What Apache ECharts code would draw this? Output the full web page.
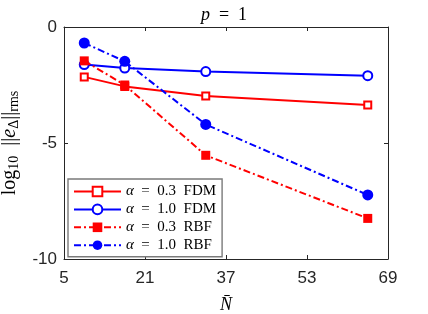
<!DOCTYPE html>
<html>
<head>
<meta charset="utf-8">
<script src="https://cdn.jsdelivr.net/npm/echarts@6/dist/echarts.min.js"></script>
<style>html,body{margin:0;padding:0;background:#fff}#c{width:428px;height:314px}</style>
</head>
<body>
<div id="c"></div>
<script>
const N = [9, 17, 33, 65];
const fdm03 = [-2.15, -2.56, -2.97, -3.36];
const fdm10 = [-1.62, -1.77, -1.92, -2.10];
const rbf03 = [-1.46, -2.50, -5.53, -8.25];
const rbf10 = [-0.69, -1.48, -4.20, -7.24];
const xTicks = [5, 21, 37, 53, 69];
const yTicks = [-10, -5, 0];

const pairs = (ys) => N.map((x, i) => [x, ys[i]]);
const serif = "'Liberation Serif','DejaVu Serif',serif";
const sans = "'Liberation Sans',Arial,sans-serif";
const axisCol = '#262626';
const dashDot = [7, 3, 2, 3];

const legendRich = {
  a: { fontFamily: serif, fontStyle: 'italic', fontSize: 15, color: '#000', lineHeight: 12 },
  t: { fontFamily: serif, fontSize: 15, color: '#000', lineHeight: 12 }
};
const names = [
  '{a|α}{t|  =  0.3  FDM}',
  '{a|α}{t|  =  1.0  FDM}',
  '{a|α}{t|  =  0.3  RBF}',
  '{a|α}{t|  =  1.0  RBF}'
];

const chart = echarts.init(document.getElementById('c'), null, { renderer: 'canvas' });
const baseX = {
  type: 'value', min: 5, max: 69, interval: 16,
  axisLine: { show: true, onZero: false, lineStyle: { color: axisCol, width: 1 } },
  axisTick: { show: true, inside: true, length: 4, lineStyle: { color: axisCol } },
  splitLine: { show: false }
};
const baseY = {
  type: 'value', min: -10, max: 0, interval: 5,
  axisLine: { show: true, onZero: false, lineStyle: { color: axisCol, width: 1 } },
  axisTick: { show: true, inside: true, length: 4, lineStyle: { color: axisCol } },
  splitLine: { show: false }
};

chart.setOption({
  animation: false,
  backgroundColor: '#fff',
  title: {
    text: '{i|p}{t|  =  1}',
    left: 219, top: 1, textAlign: 'center',
    textStyle: {
      fontWeight: 'normal',
      rich: {
        i: { fontFamily: serif, fontStyle: 'italic', fontWeight: 'normal', fontSize: 18, color: '#000' },
        t: { fontFamily: serif, fontWeight: 'normal', fontSize: 18, color: '#000' }
      }
    }
  },
  grid: { left: 64, right: 40, top: 27, bottom: 55, containLabel: false, outerBoundsMode: 'none' },
  xAxis: [
    Object.assign({}, baseX, {
      position: 'bottom',
      axisLabel: { show: true, fontFamily: sans, fontSize: 17, color: '#262626', margin: 11 },
      name: 'N\u0304',
      nameLocation: 'middle', nameGap: 37,
      nameTextStyle: { fontFamily: serif, fontStyle: 'italic', fontSize: 18, color: '#000' }
    }),
    Object.assign({}, baseX, { position: 'top', axisLabel: { show: false } })
  ],
  yAxis: [
    Object.assign({}, baseY, {
      position: 'left',
      axisLabel: { show: true, fontFamily: sans, fontSize: 17, color: '#262626', margin: 7 },
      name: '{r|log}{s|10}{r|  ||}{i|e}{s|\u0394}{r|||}{s|rms}',
      nameLocation: 'middle', nameGap: 42, nameRotate: 90,
      nameTextStyle: {
        rich: {
          r: { fontFamily: serif, fontSize: 20, color: '#000', lineHeight: 24, verticalAlign: 'middle' },
          i: { fontFamily: serif, fontStyle: 'italic', fontSize: 20, color: '#000', lineHeight: 24, verticalAlign: 'middle' },
          s: { fontFamily: serif, fontSize: 14, color: '#000', lineHeight: 24, verticalAlign: 'bottom', padding: [7, 0, 0, 0] }
        }
      }
    }),
    Object.assign({}, baseY, { position: 'right', axisLabel: { show: false } })
  ],
  legend: {
    orient: 'vertical',
    left: 68, top: 179,
    padding: [5, 6, 4, 5],
    itemWidth: 47, itemHeight: 12, itemGap: 2.9,
    backgroundColor: '#fff',
    borderColor: '#7a7a7a', borderWidth: 1.4,
    selectedMode: false,
    textStyle: { rich: legendRich, lineHeight: 12 },
    data: names
  },
  series: [
    {
      name: names[0], type: 'line', data: pairs(fdm03),
      symbol: 'emptyRect', symbolSize: 7,
      lineStyle: { color: '#ff0000', width: 2, type: 'solid' },
      itemStyle: { color: '#ff0000', borderWidth: 2 }, z: 2
    },
    {
      name: names[1], type: 'line', data: pairs(fdm10),
      symbol: 'emptyCircle', symbolSize: 9,
      lineStyle: { color: '#0000ff', width: 2, type: 'solid' },
      itemStyle: { color: '#0000ff', borderWidth: 2 }, z: 2
    },
    {
      name: names[2], type: 'line', data: pairs(rbf03),
      symbol: 'rect', symbolSize: 9,
      lineStyle: { color: '#ff0000', width: 2, type: dashDot },
      itemStyle: { color: '#ff0000' }, z: 3
    },
    {
      name: names[3], type: 'line', data: pairs(rbf10),
      symbol: 'circle', symbolSize: 11,
      lineStyle: { color: '#0000ff', width: 2, type: dashDot },
      itemStyle: { color: '#0000ff' }, z: 3
    }
  ]
});
</script>
</body>
</html>
